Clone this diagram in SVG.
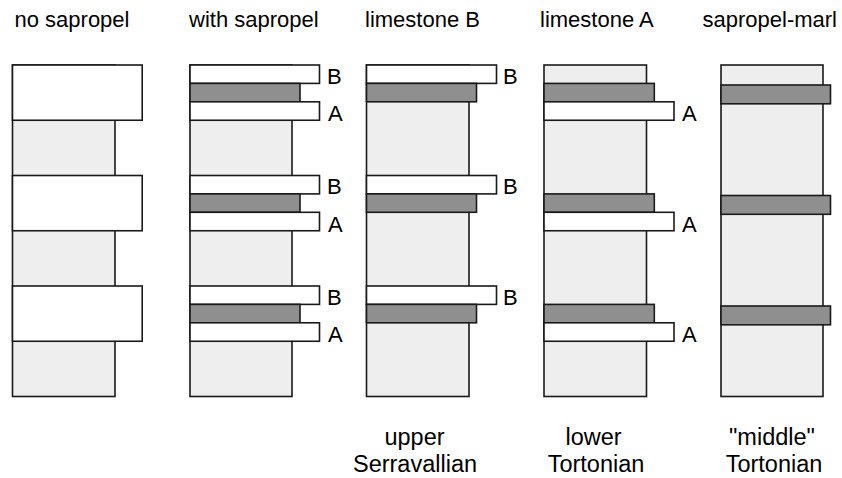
<svg xmlns="http://www.w3.org/2000/svg" width="842" height="478" viewBox="0 0 842 478">
<style>
text{font-family:"Liberation Sans",Arial,sans-serif;fill:#000}
.t{font-size:22px}
.l{font-size:22px}
.b{font-size:23.5px;text-anchor:middle}
.g{fill:#eeeeee;stroke:#1a1a1a;stroke-width:1.6}
.d{fill:#8f8f8f;stroke:#1a1a1a;stroke-width:1.6}
.w{fill:#ffffff;stroke:#1a1a1a;stroke-width:1.6}
</style>
<rect width="842" height="478" fill="#fff"/>
<g id="titles">
<text class="t" x="14.5" y="27">no sapropel</text>
<text class="t" x="189" y="27">with sapropel</text>
<text class="t" x="365" y="27">limestone B</text>
<text class="t" x="540" y="27">limestone A</text>
<text class="t" x="702.5" y="27">sapropel-marl</text>
</g>
<g id="col-no-sapropel">
<rect class="g" x="12.5" y="65" width="102.5" height="331.5"/>
<rect class="w" x="12.5" y="65" width="129.7" height="55.25"/>
<rect class="w" x="12.5" y="175.5" width="129.7" height="55.25"/>
<rect class="w" x="12.5" y="286" width="129.7" height="55.25"/>
</g>
<g id="col-with-sapropel">
<rect class="g" x="190" y="65" width="102" height="331.5"/>
<rect class="w" x="190" y="65" width="129.5" height="18.4"/>
<rect class="d" x="190" y="83.4" width="110" height="18.4"/>
<rect class="w" x="190" y="101.8" width="129.5" height="18.45"/>
<rect class="w" x="190" y="175.5" width="129.5" height="18.4"/>
<rect class="d" x="190" y="193.9" width="110" height="18.4"/>
<rect class="w" x="190" y="212.3" width="129.5" height="18.45"/>
<rect class="w" x="190" y="286" width="129.5" height="18.4"/>
<rect class="d" x="190" y="304.4" width="110" height="18.4"/>
<rect class="w" x="190" y="322.8" width="129.5" height="18.45"/>
<text class="l" x="327" y="83.5">B</text>
<text class="l" x="328" y="121">A</text>
<text class="l" x="327" y="194">B</text>
<text class="l" x="328" y="231.5">A</text>
<text class="l" x="327" y="304.5">B</text>
<text class="l" x="328" y="342">A</text>
</g>
<g id="col-limestone-b">
<rect class="g" x="366.5" y="65" width="102.5" height="331.5"/>
<rect class="w" x="366.5" y="65" width="130" height="18.4"/>
<rect class="d" x="366.5" y="83.4" width="110" height="18.4"/>
<rect class="w" x="366.5" y="175.5" width="130" height="18.4"/>
<rect class="d" x="366.5" y="193.9" width="110" height="18.4"/>
<rect class="w" x="366.5" y="286" width="130" height="18.4"/>
<rect class="d" x="366.5" y="304.4" width="110" height="18.4"/>
<text class="l" x="503" y="83.5">B</text>
<text class="l" x="503" y="194">B</text>
<text class="l" x="503" y="304.5">B</text>
</g>
<g id="col-limestone-a">
<rect class="g" x="544" y="65" width="102.5" height="331.5"/>
<rect class="d" x="544" y="83.4" width="110.3" height="18.4"/>
<rect class="w" x="544" y="101.8" width="130" height="18.45"/>
<rect class="d" x="544" y="193.9" width="110.3" height="18.4"/>
<rect class="w" x="544" y="212.3" width="130" height="18.45"/>
<rect class="d" x="544" y="304.4" width="110.3" height="18.4"/>
<rect class="w" x="544" y="322.8" width="130" height="18.45"/>
<text class="l" x="682" y="121">A</text>
<text class="l" x="682" y="231.5">A</text>
<text class="l" x="682" y="342">A</text>
</g>
<g id="col-sapropel-marl">
<rect class="g" x="721" y="65" width="102" height="331.5"/>
<rect class="d" x="721" y="85" width="109.5" height="18.8"/>
<rect class="d" x="721" y="195.5" width="109.5" height="18.8"/>
<rect class="d" x="721" y="306" width="109.5" height="18.8"/>
</g>
<g id="ages">
<text class="b" x="414.5" y="444.5">upper</text>
<text class="b" x="415" y="471.5">Serravallian</text>
<text class="b" x="593.5" y="444.5">lower</text>
<text class="b" x="596" y="471.5">Tortonian</text>
<text class="b" x="772" y="444.5">"middle"</text>
<text class="b" x="774" y="471.5">Tortonian</text>
</g>
</svg>
